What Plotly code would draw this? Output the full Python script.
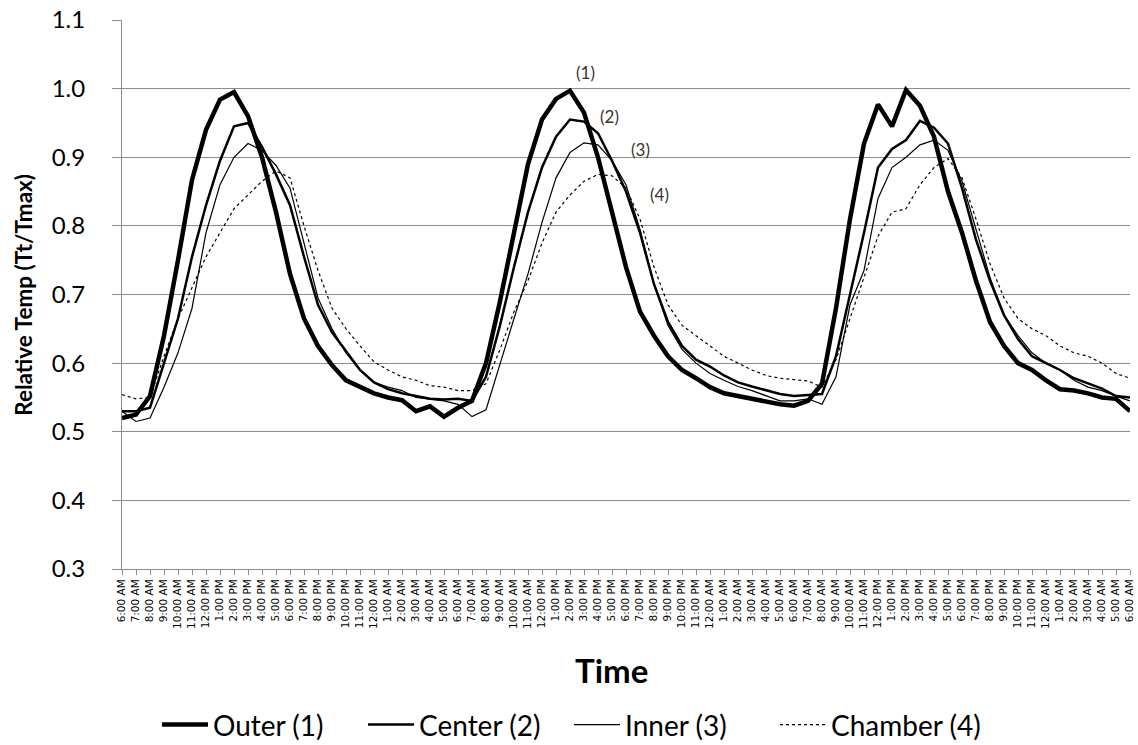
import plotly.graph_objects as go

# hours since 6:00 AM day 1
hours = list(range(73))

clock = ["6:00 AM", "7:00 AM", "8:00 AM", "9:00 AM", "10:00 AM", "11:00 AM",
         "12:00 PM", "1:00 PM", "2:00 PM", "3:00 PM", "4:00 PM", "5:00 PM",
         "6:00 PM", "7:00 PM", "8:00 PM", "9:00 PM", "10:00 PM", "11:00 PM",
         "12:00 AM", "1:00 AM", "2:00 AM", "3:00 AM", "4:00 AM", "5:00 AM"]
tick_labels = (clock * 4)[:73]

outer = [0.520, 0.525, 0.552, 0.640, 0.750, 0.867, 0.940, 0.984, 0.995, 0.960,
         0.900, 0.820, 0.730, 0.665, 0.625, 0.597, 0.575, 0.565, 0.556, 0.550,
         0.546, 0.530, 0.537, 0.522, 0.535,
         0.545, 0.600, 0.690, 0.790, 0.890, 0.955, 0.985, 0.997, 0.965, 0.900,
         0.820, 0.740, 0.675, 0.640, 0.610, 0.590, 0.578, 0.565, 0.556, 0.552,
         0.548, 0.545, 0.540, 0.538, 0.545,
         0.570, 0.680, 0.810, 0.920, 0.977, 0.945, 0.998, 0.975, 0.930, 0.850,
         0.790, 0.720, 0.660, 0.625, 0.600, 0.590, 0.575, 0.562, 0.560, 0.556,
         0.550, 0.548, 0.530]

center = [0.530, 0.530, 0.535, 0.600, 0.665, 0.755, 0.830, 0.895, 0.945, 0.950,
          0.915, 0.875, 0.830, 0.755, 0.685, 0.645, 0.617, 0.590, 0.572, 0.562,
          0.556, 0.552, 0.548, 0.547, 0.548,
          0.545, 0.580, 0.655, 0.740, 0.820, 0.885, 0.930, 0.955, 0.952, 0.935,
          0.895, 0.850, 0.790, 0.715, 0.660, 0.625, 0.605, 0.595, 0.582, 0.572,
          0.566, 0.560, 0.555, 0.552, 0.553,
          0.555, 0.610, 0.700, 0.790, 0.885, 0.912, 0.925, 0.953, 0.943, 0.920,
          0.855, 0.780, 0.720, 0.670, 0.635, 0.610, 0.600, 0.590, 0.578, 0.570,
          0.563, 0.552, 0.550]

inner = [0.530, 0.515, 0.520, 0.565, 0.615, 0.680, 0.790, 0.860, 0.900, 0.920,
         0.910, 0.888, 0.855, 0.775, 0.695, 0.650, 0.615, 0.590, 0.572, 0.565,
         0.560, 0.550, 0.548, 0.545, 0.540,
         0.522, 0.532, 0.600, 0.665, 0.730, 0.805, 0.870, 0.907, 0.921, 0.918,
         0.895, 0.860, 0.795, 0.715, 0.655, 0.620, 0.600, 0.585, 0.575, 0.566,
         0.560, 0.553, 0.545, 0.545, 0.548,
         0.540, 0.580, 0.685, 0.735, 0.840, 0.885, 0.900, 0.918, 0.925, 0.910,
         0.865, 0.795, 0.725, 0.670, 0.640, 0.615, 0.600, 0.590, 0.575, 0.565,
         0.560, 0.552, 0.545]

chamber = [0.554, 0.548, 0.550, 0.610, 0.665, 0.710, 0.755, 0.790, 0.825, 0.845,
           0.865, 0.880, 0.870, 0.800, 0.735, 0.680, 0.650, 0.625, 0.602, 0.590,
           0.580, 0.575, 0.567, 0.565, 0.560,
           0.560, 0.570, 0.620, 0.675, 0.720, 0.775, 0.820, 0.845, 0.865, 0.875,
           0.873, 0.855, 0.810, 0.740, 0.685, 0.655, 0.640, 0.625, 0.610, 0.600,
           0.590, 0.582, 0.578, 0.576, 0.574,
           0.565, 0.605, 0.665, 0.725, 0.785, 0.820, 0.825, 0.860, 0.885, 0.898,
           0.870, 0.810, 0.745, 0.695, 0.665, 0.650, 0.640, 0.625, 0.615, 0.610,
           0.600, 0.585, 0.578]

series_names = ["Outer (1)", "Center (2)", "Inner (3)", "Chamber (4)"]

# label positions (hours, value) for the "(n)" callouts
callout_text = ["(1)", "(2)", "(3)", "(4)"]
callout_x = [33.1, 34.8, 37.0, 38.4]
callout_y = [1.023, 0.960, 0.911, 0.845]

fig = go.Figure()
styles = [dict(width=4.5, dash="solid"), dict(width=2.5, dash="solid"),
          dict(width=1.2, dash="solid"), dict(width=1.2, dash="dot")]
for name, ys, st in zip(series_names, [outer, center, inner, chamber], styles):
    fig.add_trace(go.Scatter(x=hours, y=ys, mode="lines", name=name,
                             line=dict(color="black", width=st["width"], dash=st["dash"])))

for t, cx, cy in zip(callout_text, callout_x, callout_y):
    fig.add_annotation(x=cx, y=cy, text=t, showarrow=False,
                       font=dict(family="Lato", size=17, color="#3a3328"))

fig.add_annotation(text="<b>Time</b>", xref="paper", yref="paper", x=0.486, y=-0.184,
                   showarrow=False, font=dict(family="Lato", size=33, color="black"),
                   xanchor="center", yanchor="middle")
fig.add_annotation(text="<b>Relative Temp (Tt/Tmax)</b>", xref="paper", yref="paper",
                   x=-0.0985, y=0.499, textangle=-90, showarrow=False,
                   font=dict(family="Lato", size=22.5, color="black"),
                   xanchor="center", yanchor="middle")

fig.update_layout(
    width=1138, height=745,
    margin=dict(l=122, r=8, t=20, b=176, autoexpand=False),
    paper_bgcolor="white", plot_bgcolor="white",
    showlegend=True,
    legend=dict(orientation="h", xref="container", yref="container",
                x=0.5, y=0.027, xanchor="center", yanchor="middle",
                font=dict(family="Lato", size=28, color="black"),
                itemwidth=46, tracegroupgap=0,
                entrywidth=145, entrywidthmode="pixels"),
    font=dict(family="Lato", color="black"),
)
fig.update_xaxes(range=[0, 72], tickmode="array", tickvals=hours, ticktext=tick_labels,
                 tickangle=-90, tickfont=dict(family="DejaVu Sans", size=10.5, color="black"),
                 ticks="outside", ticklen=5, tickcolor="#8c8c8c", automargin=False,
                 showline=True, linecolor="#8c8c8c", linewidth=1,
                 showgrid=False, zeroline=False)
fig.update_yaxes(range=[0.3, 1.1], dtick=0.1, tick0=0.3, tickformat=".1f",
                 tickfont=dict(family="Lato", size=24, color="black"),
                 ticks="outside", ticklen=9, tickcolor="#8c8c8c", automargin=False,
                 ticklabelstandoff=22,
                 showline=True, linecolor="#8c8c8c", linewidth=1,
                 showgrid=True, gridcolor="#8c8c8c", gridwidth=1, zeroline=False)

fig.write_html("out.html")
